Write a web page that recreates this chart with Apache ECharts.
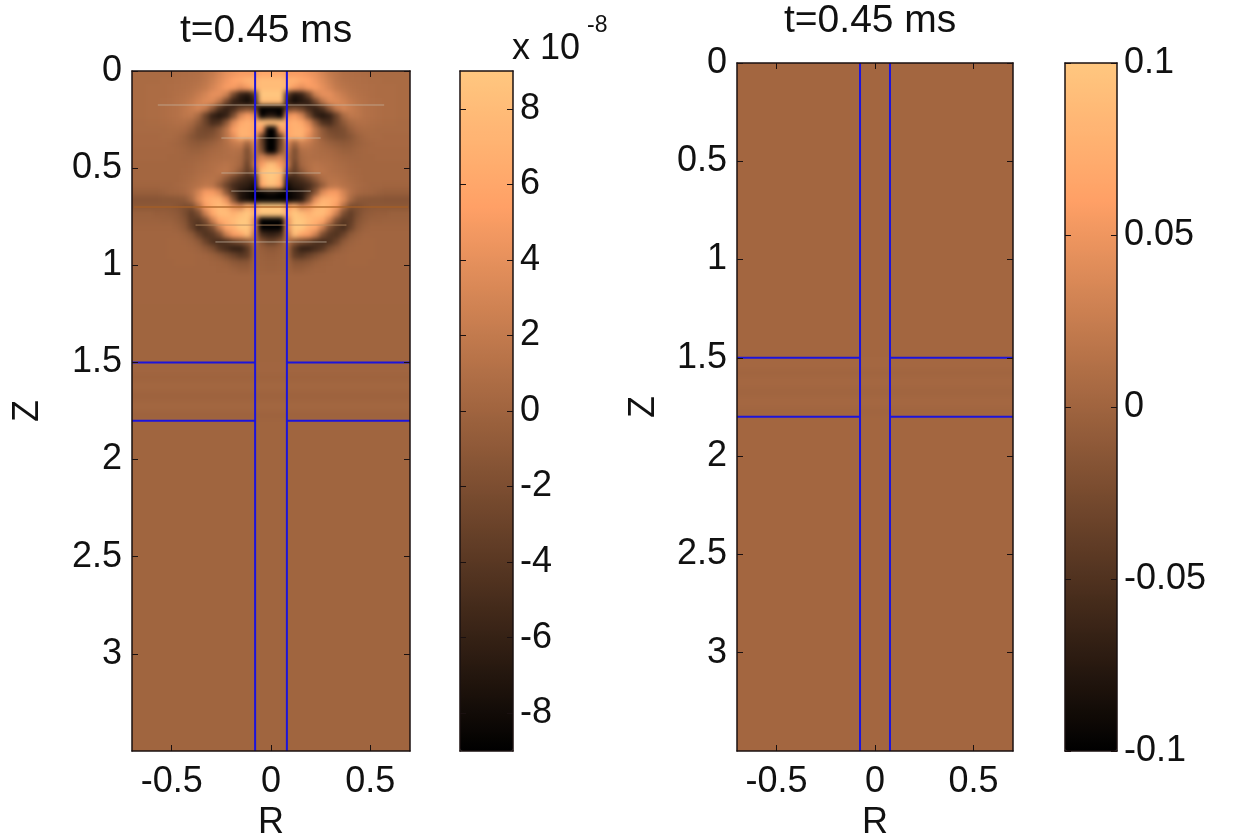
<!DOCTYPE html>
<html><head><meta charset="utf-8">
<style>html,body{margin:0;padding:0;background:#fff}#c{width:1235px;height:839px}</style>
<script src="https://cdn.jsdelivr.net/npm/echarts@6/dist/echarts.min.js"></script>
</head><body><div id="c"></div>
<script>
// Half-profile of the left field (x 10^-8): rows run down in Z, columns outward in |R|
const leftFieldHalfRows = [
[6,6,5,5,5,4.5,4,3,2,1.5,1,.9,.8,.7,.6,.6,.6,.6,.6,.6],
[8,8,7,7,6,5.5,4.5,3.5,2.5,1.6,1.2,1,.9,.8,.7,.7,.6,.6,.6,.6],
[8,8,7,5,4,5,5,4,3,2,1.5,1.2,1,.9,.8,.7,.7,.7,.6,.6],
[9,9,-4,-7,-6,-2.5,2.5,4,4,3,2.2,1.5,1.2,1,.8,.7,.7,.7,.6,.6],
[8,8,-6,-8,-7,-6,-2.5,1.5,3.5,3.5,2.8,2,1.4,1.2,.9,.8,.7,.7,.6,.6],
[-9,-9,-3,-2,-3,-5,-6,-4.5,-1,2,3,2.3,1.7,1.2,1,.8,.7,.7,.6,.6],
[-7,-9,4,5,3,-2,-6,-7,-6,-3,.5,1.8,1.7,1.2,1,.8,.7,.7,.6,.6],
[8,8,6,7,6,3.5,-1,-4.5,-5,-3,-1,.5,1,1,.8,.7,.6,.6,.5,.5],
[-9,5,6,7,7,5,1.5,-1,-2.5,-2.5,-2,-.5,.4,.6,.6,.5,.5,.5,.5,.5],
[-9,-3,6,7,7,4,1.5,-.5,-1.5,-2,-2,-1.3,-.3,.3,.5,.5,.4,.4,.4,.4],
[-9,-3,3,0,2.5,2,1,.3,-.3,-.7,-1,-.8,-.3,.1,.3,.4,.4,.4,.4,.4],
[-9,-2,2,-2,1,1.2,.9,.6,.4,0,-.3,-.3,0,.2,.3,.3,.3,.3,.3,.3],
[2,3,1,-2,.5,1,.9,.8,.7,.4,.2,.1,.1,.2,.2,.3,.3,.3,.3,.3],
[8,5,2,-3,.3,1,1.4,1.2,1,.7,.5,.3,.2,.2,.2,.2,.2,.2,.2,.2],
[9,8,-1,-3.5,-1,.8,1.6,1.5,1.1,.9,.7,.4,.3,.2,.2,.2,.2,.2,.2,.2],
[9,7,-6,-5.5,-4.5,-3,-1,.8,1.4,1.3,1,.6,.4,.2,.2,.2,.2,.2,.2,.2],
[8,6,-8,-6.5,-6,-5,-3,-.5,1.5,1.8,1.3,.9,.5,.3,.1,.1,0,0,0,0],
[-8,-9,-9,-8,-7,-4.5,-1,3.5,5,5,3,1.2,.4,.1,0,-.3,-.5,-.5,-.5,-.5],
[-9,-9,-9,-8,-7,-2,4,7,7,6,3.5,.5,-1,-1.2,-1.3,-1.3,-1.4,-1.4,-1.4,-1.4],
[9,9,5,7,3,4,7,8,7,5,1,-2,-2,-1.4,-1.1,-1.1,-1.1,-1.1,-1.1,-1.1],
[9,9,7,9,8,7,8,8,6,2.5,-2,-3.5,-2,-1,-.7,-.5,-.5,-.3,-.3,-.3],
[-9,-9,4,9,9,8,7,6,2.5,-2,-4,-3.5,-1.5,-.7,-.3,-.3,-.2,-.2,-.2,-.2],
[-9,-9,4,9,9,7,6,2.5,-2,-4,-5,-3,-1,-.3,0,0,0,0,0,0],
[-6,-5,2,8,6,5,2.5,-2,-4,-4.5,-3,-1,-.3,.1,.1,.1,.1,.1,.1,.1],
[-3,-1.5,1,-1,-2,-3,-4.5,-5,-4.5,-3,-1,-.2,.1,.2,.2,.1,.1,.1,.1,.1],
[-1,-.5,.2,-4,-6,-6,-5,-4,-2,-1,-.2,.1,.2,.2,.2,.1,.1,.1,.1,.1],
[-.5,-.3,0,-3.5,-4,-3,-2,-1,-.4,0,.1,.2,.2,.2,.2,.1,.1,.1,.1,.1],
[-.3,-.2,0,-1.3,-1.3,-1,-.4,-.1,0,.1,.1,.2,.2,.2,.1,.1,.1,.1,.1,.1],
[-.2,-.1,0,-.5,-.5,-.2,0,0,.1,.1,.1,.1,.1,.1,.1,.1,.1,.1,.1,.1]
];
const fieldRowStepZ = 0.036;
const fieldColStepR = 0.035;

// Remaining horizontal bands, uniform across R
const leftBandEdgesZ  = [1.044,1.2,1.5,1.56,1.6,1.65,1.7,1.75,1.8,3.5];
const leftBandValues  = [0.1,0.05,0.1,-0.1,0.15,-0.1,0.15,-0.1,0.05];
const rightBandEdgesZ = [0,1.5,1.56,1.6,1.65,1.7,1.75,1.8,3.5];
const rightBandValues = [0.002,0.003,0.001,0.003,0.001,0.003,0.001,0.002];

// Thin bright and dark streaks in the left field: [z, half length in R]
const greyStreaks = [[0.175,0.57],[0.345,0.25],[0.525,0.25],[0.618,0.2],[0.88,0.28]];
const tanStreaks  = [[0.793,0.38]];
const darkStreaks = [[0.70,0.69]];

const leftWallR = 0.08,  rightWallR = 0.076;
const layerZ = [1.5,1.8];
const rTicks = [-0.5,0,0.5];
const zTicks = [0,0.5,1,1.5,2,2.5,3];
const barTicksLeft  = [-8,-6,-4,-2,0,2,4,6,8];
const barTicksRight = [-0.1,-0.05,0,0.05,0.1];
const titles = ['t=0.45 ms','t=0.45 ms'];
// MATLAB copper map
const copperStops = ['#000000','#402819','#805032','#bf784c','#ffa066','#ffc77f'];

const FONT = 'Liberation Sans', FS = 36, INK = '#1a1010', TXT = '#111';

function leftCells(){
  const out=[];
  leftFieldHalfRows.forEach((row,i)=>{
    const z0=i*fieldRowStepZ, z1=(i+1)*fieldRowStepZ;
    row.forEach((v,j)=>{
      const a=j*fieldColStepR, b=(j+1)*fieldColStepR;
      out.push([a,b,z0,z1,v]); out.push([-b,-a,z0,z1,v]);
    });
  });
  leftBandValues.forEach((v,i)=>out.push([-0.7,0.7,leftBandEdgesZ[i],leftBandEdgesZ[i+1],v]));
  return out;
}
function rightCells(){
  return rightBandValues.map((v,i)=>[-0.7,0.7,rightBandEdgesZ[i],rightBandEdgesZ[i+1],v]);
}
const BLEED = 10; // cells at the frame run under it so that the softening does not fade at the edge
function cellItem(params,api){
  const p0=api.coord([api.value(0),api.value(2)]), p1=api.coord([api.value(1),api.value(3)]);
  let x0=Math.floor(Math.min(p0[0],p1[0])), y0=Math.floor(Math.min(p0[1],p1[1]));
  let x1=Math.ceil(Math.max(p0[0],p1[0])), y1=Math.ceil(Math.max(p0[1],p1[1]));
  if(api.value(0)<=-0.7+1e-6) x0-=BLEED;
  if(api.value(1)>=0.7-1e-6) x1+=BLEED;
  if(api.value(2)<=1e-6) y0-=BLEED;
  if(api.value(3)>=3.5-1e-6) y1+=BLEED;
  return {type:'rect',shape:{x:x0,y:y0,width:x1-x0,height:y1-y0},style:{fill:api.visual('color')}};
}
function wallLines(w){
  const rows=[[-w,0],[-w,3.5],[null,null],[w,0],[w,3.5]];
  layerZ.forEach(z=>{rows.push([null,null],[-0.7,z],[-w,z],[null,null],[w,z],[0.7,z]);});
  return rows;
}
function streakLines(list){
  const rows=[];
  list.forEach(s=>{rows.push([-s[1],s[0]],[s[1],s[0]],[null,null]);});
  return rows;
}
const grids=[
 {left:132,top:71,width:278,height:680},
 {left:460,top:71,width:53,height:680},
 {left:737,top:63,width:276,height:688},
 {left:1065,top:63,width:52,height:688}
].map(g=>Object.assign({containLabel:false,show:false,outerBoundsMode:'none'},g));

const tickStyle={show:true,inside:true,length:6,lineStyle:{color:INK,width:1}};
const lineStyle={show:true,onZero:false,lineStyle:{color:INK,width:1.5}};
const lbl={color:TXT,fontFamily:FONT,fontSize:FS};

function rAxes(gi){
  const base={type:'value',gridIndex:gi,min:-0.7,max:0.7,splitLine:{show:false},z:6,axisLine:lineStyle};
  return [
   Object.assign({},base,{position:'bottom',name:'R',nameLocation:'middle',nameGap:54,
     nameTextStyle:{color:TXT,fontFamily:FONT,fontSize:FS},
     axisTick:Object.assign({},tickStyle,{customValues:rTicks}),
     axisLabel:Object.assign({},lbl,{margin:13,customValues:rTicks,formatter:v=>String(v)})}),
   Object.assign({},base,{position:'top',axisLabel:{show:false},
     axisTick:Object.assign({},tickStyle,{customValues:rTicks})})
  ];
}
function zAxes(gi){
  const base={type:'value',gridIndex:gi,inverse:true,min:0,max:3.5,splitLine:{show:false},z:6,axisLine:lineStyle};
  return [
   Object.assign({},base,{position:'left',name:'Z',nameLocation:'middle',nameGap:gi===0?86:75,
     nameTextStyle:{color:TXT,fontFamily:FONT,fontSize:FS},
     axisTick:Object.assign({},tickStyle,{customValues:zTicks}),
     axisLabel:Object.assign({},lbl,{margin:10,customValues:zTicks,formatter:v=>String(v)})}),
   Object.assign({},base,{position:'right',axisLabel:{show:false},
     axisTick:Object.assign({},tickStyle,{customValues:zTicks})})
  ];
}
function barX(gi){
  const base={type:'value',gridIndex:gi,min:0,max:1,splitLine:{show:false},z:6,axisLine:lineStyle,axisTick:{show:false},axisLabel:{show:false}};
  return [Object.assign({},base,{position:'bottom'}),Object.assign({},base,{position:'top'})];
}
function barY(gi,min,max,ticks){
  const base={type:'value',gridIndex:gi,min,max,splitLine:{show:false},z:6,axisLine:lineStyle};
  const t=Object.assign({},tickStyle,{customValues:ticks});
  return [
   Object.assign({},base,{position:'left',axisLabel:{show:false},axisTick:t}),
   Object.assign({},base,{position:'right',axisTick:t,
     axisLabel:Object.assign({},lbl,{margin:7,customValues:ticks,formatter:v=>String(v)})})
  ];
}
const xAxis=[...rAxes(0),...barX(1),...rAxes(2),...barX(3)];
const yAxis=[...zAxes(0),...barY(1,-9,9,barTicksLeft),...zAxes(2),...barY(3,-0.1,0.1,barTicksRight)];

function lineSeries(xi,data,color,width,z,op){
  return {type:'line',xAxisIndex:xi,yAxisIndex:xi,data,showSymbol:false,symbol:'none',connectNulls:false,silent:true,animation:false,z,
    lineStyle:{color,width,opacity:op===undefined?1:op}};
}
const series=[
 {type:'custom',xAxisIndex:0,yAxisIndex:0,data:leftCells(),renderItem:cellItem,encode:{x:[0,1],y:[2,3]},animation:false,silent:true,z:2,zlevel:-1},
 lineSeries(0,streakLines(greyStreaks),'#c6b6a4',1,3,0.7),
 lineSeries(0,streakLines(tanStreaks),'#b58a60',1,3,0.8),
 lineSeries(0,streakLines(darkStreaks),'#a85f24',1.5,3,0.8),
 lineSeries(0,wallLines(leftWallR),'#1c14dc',2,4),
 {type:'custom',xAxisIndex:4,yAxisIndex:4,data:rightCells(),renderItem:cellItem,encode:{x:[0,1],y:[2,3]},animation:false,silent:true,z:2,zlevel:-1},
 lineSeries(4,wallLines(rightWallR),'#1c14dc',2,4)
];
const visualMap=[
 {type:'continuous',seriesIndex:0,dimension:4,min:-9,max:9,left:460,top:71,itemWidth:53,itemHeight:680,padding:0,text:null,showLabel:false,calculable:false,hoverLink:false,realtime:false,inRange:{color:copperStops},z:3,textStyle:{fontSize:0}},
 {type:'continuous',seriesIndex:5,dimension:4,min:-0.1,max:0.1,left:1065,top:63,itemWidth:52,itemHeight:688,padding:0,text:null,showLabel:false,calculable:false,hoverLink:false,realtime:false,inRange:{color:copperStops},z:3,textStyle:{fontSize:0}}
];
const ts={fontFamily:FONT,fontSize:39,fill:TXT};
const graphic=[
 {type:'text',left:180,top:12,style:Object.assign({text:titles[0]},ts)},
 {type:'text',left:784,top:2,style:Object.assign({text:titles[1]},ts)},
 {type:'text',left:512,top:31,style:Object.assign({text:'x 10'},{fontFamily:FONT,fontSize:36,fill:TXT})},
 {type:'text',left:587,top:14,style:{text:'-8',fontFamily:FONT,fontSize:23,fill:TXT}}
];
const chart=echarts.init(document.getElementById('c'),null,{renderer:'canvas'});
chart.setOption({animation:false,grid:grids,xAxis,yAxis,series,visualMap,graphic,tooltip:{show:false}});
// the reference is a soft scan: soften only the field layer and keep it inside the two frames
const layers=document.querySelectorAll('#c canvas');
if(layers.length>1){
  layers[0].style.filter='blur(2.5px)';
  layers[0].style.clipPath="path('M132 71H410V751H132Z M737 63H1013V751H737Z')";
}
</script></body></html>
